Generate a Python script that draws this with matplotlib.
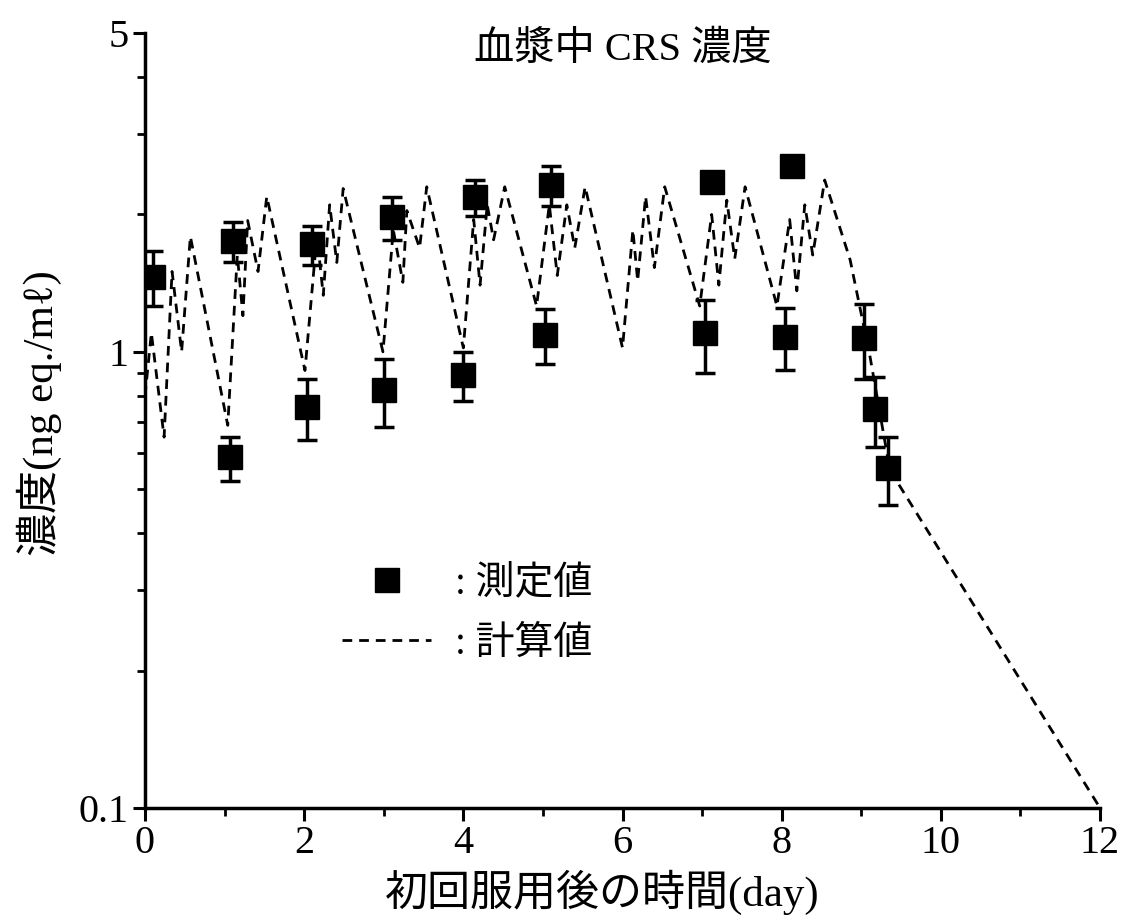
import matplotlib
matplotlib.use("Agg")
import matplotlib.pyplot as plt
from matplotlib.lines import Line2D
from matplotlib.ticker import LogLocator, NullFormatter, FixedLocator

# calculated curve (day, ng eq./ml)
calc_days = [0.00, 0.08, 0.24, 0.34, 0.46, 0.57,
             1.04, 1.16, 1.23, 1.29, 1.42, 1.53,
             2.01, 2.16, 2.24, 2.32, 2.41, 2.49,
             2.99, 3.12, 3.24, 3.29, 3.45, 3.54,
             4.00, 4.13, 4.21, 4.30, 4.38, 4.52,
             4.92, 5.08, 5.18, 5.30, 5.40, 5.53,
             6.00, 6.13, 6.19, 6.29, 6.40, 6.53,
             6.97, 7.12, 7.21, 7.31, 7.41, 7.54,
             7.94, 8.10, 8.19, 8.29, 8.39, 8.54,
             8.86, 9.11, 9.36, 12.0]
calc_conc = [0.80, 1.10, 0.65, 1.50, 1.00, 1.79,
             0.69, 1.63, 1.20, 1.94, 1.50, 2.19,
             0.91, 1.80, 1.33, 2.10, 1.57, 2.28,
             1.00, 1.85, 1.42, 2.04, 1.69, 2.30,
             1.02, 1.95, 1.40, 2.10, 1.76, 2.30,
             1.26, 2.10, 1.47, 2.10, 1.69, 2.30,
             1.02, 1.85, 1.43, 2.19, 1.53, 2.30,
             1.26, 2.00, 1.40, 2.15, 1.60, 2.30,
             1.26, 1.95, 1.36, 2.10, 1.63, 2.38,
             1.59, 0.975, 0.55, 0.10]

# measured values
meas_days = [0.10, 1.07, 1.10, 2.03, 2.10, 3.00, 3.10, 4.00, 4.15,
             5.02, 5.10, 7.03, 7.13, 8.04, 8.13, 9.03, 9.17, 9.33]
meas_conc = [1.46, 0.587, 1.75, 0.757, 1.72, 0.824, 1.97, 0.89, 2.18,
             1.09, 2.32, 1.10, 2.36, 1.08, 2.56, 1.07, 0.75, 0.556]
meas_sd = [0.20, 0.065, 0.18, 0.115, 0.17, 0.14, 0.21, 0.11, 0.20,
           0.15, 0.23, 0.20, 0.06, 0.17, 0.06, 0.20, 0.13, 0.095]

x_ticks = [0, 2, 4, 6, 8, 10, 12]
y_ticks = [0.1, 1, 5]
y_tick_labels = ["0.1", "1", "5"]

fonts = ["Liberation Serif", "Noto Sans CJK JP", "DejaVu Sans"]
plt.rcParams["font.family"] = fonts

fig = plt.figure(figsize=(11.24, 9.23), dpi=100)
ax = fig.add_axes([0.129, 0.1246, 0.8497, 0.8397])

ax.plot(calc_days, calc_conc, color="black", lw=2, linestyle=(0, (3.5, 2.5)), zorder=2)
ax.errorbar(meas_days, meas_conc, yerr=meas_sd, fmt="s", color="black",
            markersize=17, elinewidth=2.5, capsize=7, capthick=2.5, zorder=3)

ax.set_yscale("log")
ax.set_xlim(0, 12)
ax.set_ylim(0.1, 5)
ax.yaxis.set_major_locator(FixedLocator(y_ticks))
ax.set_yticklabels(y_tick_labels)
ax.yaxis.set_minor_locator(LogLocator(base=10, subs=range(2, 10)))
ax.yaxis.set_minor_formatter(NullFormatter())
ax.set_xticks(x_ticks)
ax.set_xticks(range(1, 12, 2), minor=True)

for s in ["top", "right"]:
    ax.spines[s].set_visible(False)
for s in ["left", "bottom"]:
    ax.spines[s].set_linewidth(2.5)
ax.tick_params(which="major", direction="out", length=9, width=2.2, labelsize=29, pad=3)
ax.tick_params(which="minor", direction="out", length=6, width=2)

ax.set_xlabel("初回服用後の時間(day)", fontsize=31)
ax.xaxis.set_label_coords(0.479, -0.08)
ax.set_ylabel("濃度(ng eq./mℓ)", fontsize=31)
ax.yaxis.set_label_coords(-0.087, 0.51)
ax.set_title("血漿中 CRS 濃度", fontsize=29, y=0.955)

handles = [Line2D([], [], marker="s", color="black", linestyle="none", markersize=17),
           Line2D([], [], color="black", lw=2, linestyle=(0, (3.5, 2.5)))]
ax.legend(handles, [": 測定値", ": 計算値"], loc=(0.19, 0.167), frameon=False,
          fontsize=28, handlelength=2.3, handletextpad=0.6, labelspacing=0.61)

fig.savefig("out.png", dpi=100)
